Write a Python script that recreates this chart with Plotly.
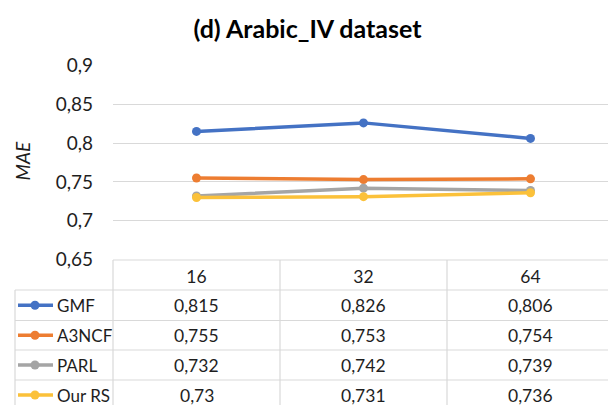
import plotly.graph_objects as go

categories = ["16", "32", "64"]
series_names = ["GMF", "A3NCF", "PARL", "Our RS"]
gmf = [0.815, 0.826, 0.806]
a3ncf = [0.755, 0.753, 0.754]
parl = [0.732, 0.742, 0.739]
our_rs = [0.73, 0.731, 0.736]
y_tick_vals = [0.65, 0.7, 0.75, 0.8, 0.85, 0.9]
y_tick_labels = ["0,65", "0,7", "0,75", "0,8", "0,85", "0,9"]
colors = ["#4472C4", "#ED7D31", "#A5A5A5", "#FBC13A"]
series_values = [gmf, a3ncf, parl, our_rs]

W, H = 608, 405
PL, PR, PT, PB = 113, 608, 65, 260   # plot area in pixels
FONT = "Lato"
TXT = "#1e1e1e"
GRID = "#d9d9d9"


def fx(px):
    return (px - PL) / (PR - PL)


def fy(py):
    return (PB - py) / (PB - PT)


fig = go.Figure()
for name, vals, col in zip(series_names, series_values, colors):
    fig.add_trace(go.Scatter(
        x=categories, y=vals, name=name, mode="lines+markers",
        line=dict(color=col, width=3.5),
        marker=dict(color=col, size=9),
        cliponaxis=False,
    ))

shapes = []
annotations = []

# table geometry (pixels)
col_edges = [113, 280, 447, 614]
row_edges = [290, 320.5, 350, 380, 410]
header_top = 260
label_left = 15


def hline(x0, x1, y):
    shapes.append(dict(type="line", xref="paper", yref="paper",
                       x0=fx(x0), x1=fx(x1), y0=fy(y), y1=fy(y),
                       line=dict(color=GRID, width=1.2), layer="below"))


def vline(x, y0, y1):
    shapes.append(dict(type="line", xref="paper", yref="paper",
                       x0=fx(x), x1=fx(x), y0=fy(y0), y1=fy(y1),
                       line=dict(color=GRID, width=1.2), layer="below"))


hline(113, 608, header_top)
for y in row_edges[:-1]:
    hline(label_left, 608, y)
vline(label_left, row_edges[0], 405)
for x in col_edges[:-1]:
    vline(x, header_top, 405)

# table cells
for i, (name, vals, col) in enumerate(zip(series_names, series_values, colors)):
    yc = (row_edges[i] + row_edges[i + 1]) / 2
    # legend key
    shapes.append(dict(type="line", xref="paper", yref="paper",
                       x0=fx(18), x1=fx(53), y0=fy(yc), y1=fy(yc),
                       line=dict(color=col, width=3.5)))
    shapes.append(dict(type="circle", xref="paper", yref="paper",
                       x0=fx(35 - 4.5), x1=fx(35 + 4.5),
                       y0=fy(yc + 4.5), y1=fy(yc - 4.5),
                       fillcolor=col, line=dict(color=col, width=0)))
    annotations.append(dict(text=name, xref="paper", yref="paper",
                            x=fx(55), y=fy(yc), xanchor="left", yanchor="middle",
                            showarrow=False, font=dict(family=FONT, size=17, color=TXT)))
    for j, v in enumerate(vals):
        xc = (col_edges[j] + col_edges[j + 1]) / 2
        annotations.append(dict(text=str(v).replace(".", ","), xref="paper", yref="paper",
                                x=fx(xc), y=fy(yc), xanchor="center", yanchor="middle",
                                showarrow=False, font=dict(family=FONT, size=17.5, color=TXT)))

# y axis title
annotations.append(dict(text="<i>MAE</i>", xref="paper", yref="paper",
                        x=fx(21.5), y=fy(161), textangle=-90, xanchor="center", yanchor="middle",
                        showarrow=False, font=dict(family=FONT, size=19, color=TXT)))

# x range so that columns are 167 px wide starting at 113
unit = (col_edges[1] - col_edges[0])
x_lo = -0.5
x_hi = x_lo + (PR - PL) / unit

fig.update_layout(
    width=W, height=H,
    margin=dict(l=PL, r=W - PR, t=PT, b=H - PB),
    paper_bgcolor="white", plot_bgcolor="white",
    showlegend=False,
    font=dict(family=FONT, size=17, color=TXT),
    title=dict(text="<b>(d) Arabic_IV dataset</b>", x=307.5 / W, xanchor="center",
               xref="container", y=1 - 29 / H, yref="container", yanchor="middle",
               font=dict(family=FONT, size=25, color="black")),
    xaxis=dict(type="category", range=[x_lo, x_hi], showgrid=False, zeroline=False,
               showline=False, ticks="", tickfont=dict(family=FONT, size=17.5, color=TXT),
               ticklabelstandoff=4),
    yaxis=dict(range=[0.6495, 0.9005], tickvals=y_tick_vals, ticktext=y_tick_labels,
               showgrid=True, gridcolor=GRID, gridwidth=1.2, zeroline=False, showline=False,
               ticks="", ticklabelstandoff=19, tickfont=dict(family=FONT, size=19, color=TXT)),
    shapes=shapes,
    annotations=annotations,
)

fig.write_html("out.html", config={"displayModeBar": False},
               post_script="document.body.style.margin='0';")
